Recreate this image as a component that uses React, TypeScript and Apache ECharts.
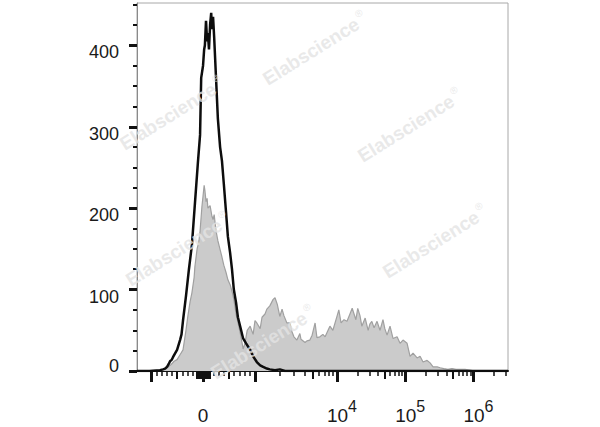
import React, { useEffect, useRef } from 'react';
import * as echarts from 'echarts';

// Histogram data on the display (channel) scale 0..1000
const BLACK_CHANNELS = [0, 35, 62, 70, 76, 81, 86, 89, 94, 97, 103, 108, 116, 120, 124, 132, 140, 148, 156, 164, 170, 173, 178, 181, 183, 186, 189, 191, 194, 197, 200, 202, 205, 208, 213, 218, 224, 229, 234, 240, 245, 251, 256, 261, 267, 272, 278, 286, 294, 305, 313, 323, 332, 340, 350, 358, 372, 385, 399, 1000];
const BLACK_COUNTS = [0, 0, 1, 2, 3, 5, 9, 12, 14, 17, 22, 26, 38, 45, 62, 92, 125, 155, 205, 255, 290, 360, 375, 395, 400, 430, 405, 415, 395, 425, 440, 420, 435, 410, 360, 310, 275, 258, 230, 195, 165, 145, 125, 100, 84, 66, 55, 40, 34, 26, 18, 11, 7, 5, 3, 2, 1, 2, 0, 0];

const GREY_CHANNELS = [0, 62, 73, 81, 92, 100, 108, 116, 124, 132, 137, 143, 148, 154, 156, 162, 167, 170, 175, 178, 181, 183, 186, 189, 191, 197, 202, 205, 208, 213, 218, 224, 229, 234, 240, 245, 251, 256, 261, 267, 272, 278, 283, 286, 291, 297, 305, 313, 318, 323, 332, 337, 345, 350, 358, 367, 372, 378, 385, 391, 396, 404, 412, 418, 423, 431, 439, 442, 453, 458, 466, 472, 480, 485, 493, 501, 507, 515, 520, 528, 539, 544, 550, 558, 566, 574, 580, 590, 595, 601, 606, 615, 623, 628, 633, 639, 647, 655, 663, 668, 674, 682, 690, 701, 709, 717, 728, 736, 744, 755, 763, 771, 782, 790, 798, 809, 817, 827, 838, 849, 860, 871, 884, 898, 911, 1000];
const GREY_COUNTS = [0, 1, 2, 4, 8, 12, 14, 20, 26, 50, 67, 85, 96, 115, 128, 150, 160, 172, 202, 215, 228, 222, 208, 212, 200, 203, 190, 186, 192, 172, 160, 149, 140, 130, 121, 112, 106, 98, 88, 70, 60, 47, 35, 27, 34, 50, 55, 45, 62, 59, 52, 66, 70, 76, 80, 88, 90, 82, 67, 76, 68, 59, 59, 48, 42, 38, 46, 39, 35, 37, 38, 44, 59, 41, 42, 45, 42, 50, 55, 50, 67, 75, 59, 63, 61, 70, 77, 63, 77, 68, 55, 65, 50, 58, 61, 53, 61, 50, 63, 52, 44, 55, 40, 42, 34, 38, 34, 18, 22, 16, 18, 11, 13, 10, 5, 5, 4, 3, 2, 3, 2, 2, 2, 1, 0, 0];

const Y_LABEL_VALUES = [0, 100, 200, 300, 400];
const Y_MINOR_VALUES = [25, 50, 75, 125, 150, 175, 225, 250, 275, 325, 350, 375, 425, 450];

const X_LABEL_VALUES = [0, 1e4, 1e5, 1e6];
const X_LABEL_BASES = ['0', '10', '10', '10'];
const X_LABEL_EXPONENTS = ['', '4', '5', '6'];

const X_MAJOR_VALUES = [-1000, 0, 1000, 1e4, 1e5, 1e6];
const X_MID_VALUES = [-500, 500, 5e3, 5e4, 5e5, -125, -100, -75, -50, -25, 25, 50, 75, 100, 125];
const X_MINOR_VALUES = [-900, -800, -700, -600, -400, -300, -200, 200, 300, 400, 600, 700, 800, 900,
  2e3, 3e3, 4e3, 6e3, 7e3, 8e3, 9e3, 2e4, 3e4, 4e4, 6e4, 7e4, 8e4, 9e4,
  2e5, 3e5, 4e5, 6e5, 7e5, 8e5, 9e5, 2e6, 3e6];

const WATERMARK_TEXT = 'Elabscience';

const FONT = '"Liberation Sans", Arial, Helvetica, sans-serif';

// biexponential-like display transform: value -> channel (0..1000)
function toChannel(v: number): number {
  const a = Math.abs(v);
  const s = Math.sign(v);
  if (a <= 1000) return 178 + v * 0.14;
  if (a <= 1e4) return 178 + s * (140 + 221 * Math.log10(a / 1000));
  return 178 + s * (361 + 184 * Math.log10(a / 1e4));
}

const GRID = { left: 137, top: 3, right: 92, bottom: 56 };

export default function App() {
  const ref = useRef<HTMLDivElement>(null);
  useEffect(() => {
    if (!ref.current) return;
    const chart = echarts.init(ref.current, undefined, { renderer: 'svg' });
    const labelChannels = X_LABEL_VALUES.map(toChannel);
    const wmPositions = [[315, 49], [172, 114], [410, 126], [178, 250], [435, 242], [263, 343]];
    const baseX = {
      type: 'value' as const,
      min: 0,
      max: 1000,
      position: 'bottom' as const,
      splitLine: { show: false },
    };
    const baseY = {
      type: 'value' as const,
      min: 0,
      max: 452,
      splitLine: { show: false },
    };
    chart.setOption({
      animation: false,
      backgroundColor: '#ffffff',
      grid: [
        { ...GRID, show: true, borderColor: '#a8a8a8', borderWidth: 1 },
        { ...GRID, show: false },
        { ...GRID, show: false },
      ],
      xAxis: [
        {
          ...baseX,
          gridIndex: 0,
          axisLine: { show: true, lineStyle: { color: '#111', width: 2 } },
          axisTick: {
            show: true,
            length: 11,
            customValues: X_MAJOR_VALUES.map(toChannel),
            lineStyle: { color: '#111', width: 3 },
          },
          axisLabel: {
            show: true,
            margin: 27,
            customValues: labelChannels,
            formatter: (val: number) => {
              let best = 0;
              for (let i = 0; i < labelChannels.length; i++) {
                if (Math.abs(labelChannels[i] - val) < Math.abs(labelChannels[best] - val)) best = i;
              }
              const e = X_LABEL_EXPONENTS[best];
              if (!e) return `{z|${X_LABEL_BASES[best]}}`;
              return `{b|${X_LABEL_BASES[best]}}{s|${e}}`;
            },
            rich: {
              z: { fontSize: 19, fontFamily: FONT, color: '#1a1a1a', padding: [7.5, 0, 7.5, 0] },
              b: { fontSize: 19, fontFamily: FONT, color: '#1a1a1a', padding: [0, 0, 0, 10] },
              s: { fontSize: 16, fontFamily: FONT, color: '#1a1a1a', padding: [0, 0, 18, 0] },
            },
          },
        },
        {
          ...baseX,
          gridIndex: 1,
          axisLine: { show: false },
          axisLabel: { show: false },
          axisTick: {
            show: true,
            length: 8,
            customValues: X_MID_VALUES.map(toChannel),
            lineStyle: { color: '#111', width: 2 },
          },
        },
        {
          ...baseX,
          gridIndex: 2,
          axisLine: { show: false },
          axisLabel: { show: false },
          axisTick: {
            show: true,
            length: 5,
            customValues: X_MINOR_VALUES.map(toChannel),
            lineStyle: { color: '#111', width: 1.5 },
          },
        },
      ],
      yAxis: [
        {
          ...baseY,
          gridIndex: 0,
          axisLine: { show: true, lineStyle: { color: '#8a8a8a', width: 1 } },
          axisTick: {
            show: true,
            length: 8,
            customValues: Y_LABEL_VALUES,
            lineStyle: { color: '#111', width: 3 },
          },
          axisLabel: {
            show: true,
            margin: 18,
            customValues: Y_LABEL_VALUES,
            formatter: (v: number) => (v === 0 ? `{z|0}` : `{n|${v}}`),
            rich: {
              z: { fontSize: 18, fontFamily: FONT, color: '#1a1a1a', padding: [0, 0, 10, 0] },
              n: { fontSize: 18, fontFamily: FONT, color: '#1a1a1a', padding: [14, 0, 0, 0] },
            },
          },
        },
        {
          ...baseY,
          gridIndex: 1,
          axisLine: { show: false },
          axisLabel: { show: false },
          axisTick: {
            show: true,
            length: 4,
            customValues: Y_MINOR_VALUES,
            lineStyle: { color: '#111', width: 2 },
          },
        },
        {
          ...baseY,
          gridIndex: 2,
          show: false,
        },
      ],
      series: [
        {
          type: 'line',
          xAxisIndex: 0,
          yAxisIndex: 0,
          symbol: 'none',
          showSymbol: false,
          data: GREY_CHANNELS.map((c, i) => [c, GREY_COUNTS[i]]),
          lineStyle: { color: '#a0a0a0', width: 1.2 },
          areaStyle: { color: '#cbcbcb', opacity: 1 },
          z: 2,
        },
        {
          type: 'line',
          xAxisIndex: 0,
          yAxisIndex: 0,
          symbol: 'none',
          showSymbol: false,
          data: BLACK_CHANNELS.map((c, i) => [c, BLACK_COUNTS[i]]),
          lineStyle: { color: '#0d0d0d', width: 2.5 },
          z: 3,
        },
      ],
      graphic: wmPositions.map(([x, y]) => ({
        type: 'text',
        x,
        y,
        rotation: (32 * Math.PI) / 180,
        z: 100,
        silent: true,
        style: {
          text: `{a|${WATERMARK_TEXT}}{r|®}`,
          align: 'center',
          verticalAlign: 'middle',
          opacity: 0.8,
          fill: '#e4e4e4',
          rich: {
            a: { fontSize: 19, fontWeight: 'bold', fontFamily: FONT, fill: '#e4e4e4' },
            r: { fontSize: 10, fontFamily: FONT, fill: '#e4e4e4', padding: [0, 0, 14, 2] },
          },
        },
      })),
    });
    return () => chart.dispose();
  }, []);
  return (
    <div
      ref={ref}
      style={{ position: 'fixed', left: 0, top: 0, width: 600, height: 427 }}
    />
  );
}
